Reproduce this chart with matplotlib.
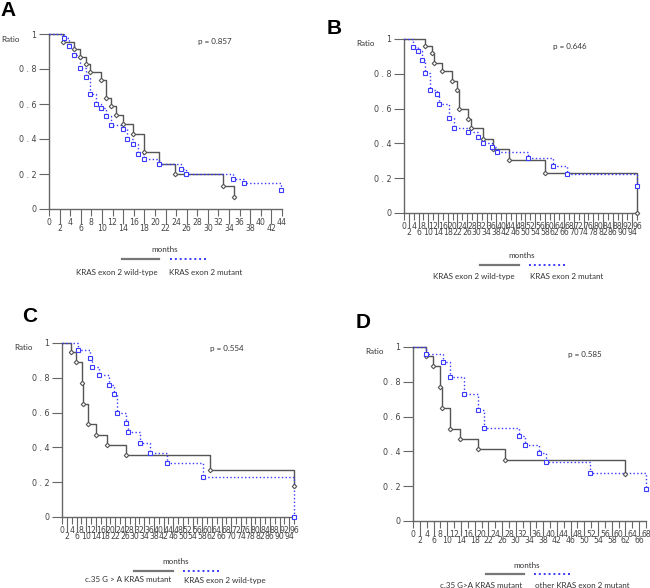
import matplotlib
matplotlib.use("Agg")
import matplotlib.pyplot as plt
from matplotlib.ticker import FixedLocator, FixedFormatter

# ---------------- data ----------------
# Panel A
A_black_t = [2.7, 4.7, 5.8, 6.9, 7.7, 9.8, 10.8, 11.7, 12.7, 13.9, 15.9, 17.9, 20.8, 23.8, 32.8, 34.9]
A_black_s = [0.957, 0.913, 0.870, 0.826, 0.783, 0.735, 0.636, 0.587, 0.535, 0.488, 0.430, 0.326, 0.260, 0.198, 0.131, 0.069]
A_blue_t = [2.8, 3.7, 4.7, 5.8, 6.9, 7.7, 8.8, 9.8, 10.8, 11.8, 13.9, 14.8, 15.9, 16.8, 17.9, 20.8, 24.9, 25.8, 34.8, 36.9, 43.9]
A_blue_s = [0.979, 0.930, 0.878, 0.804, 0.752, 0.655, 0.602, 0.579, 0.531, 0.478, 0.455, 0.400, 0.370, 0.312, 0.284, 0.255, 0.229, 0.200, 0.171, 0.147, 0.110]

# Panel B
B_black_t = [8.5, 11.6, 12.5, 15.6, 19.6, 21.9, 22.6, 26.4, 27.4, 32.5, 36.5, 43.4, 58.3, 96.0]
B_black_s = [0.960, 0.918, 0.862, 0.815, 0.759, 0.707, 0.598, 0.543, 0.491, 0.426, 0.369, 0.306, 0.231, 0.0]
B_blue_t = [3.7, 5.8, 7.6, 8.5, 10.6, 13.6, 14.6, 18.5, 20.5, 26.4, 30.4, 32.5, 36.4, 38.3, 51.1, 61.3, 67.2, 96.0]
B_blue_s = [0.956, 0.931, 0.880, 0.807, 0.707, 0.683, 0.625, 0.547, 0.491, 0.465, 0.434, 0.405, 0.380, 0.352, 0.317, 0.272, 0.224, 0.153]

# Panel C
C_black_t = [3.7, 5.9, 8.3, 8.7, 10.6, 13.9, 18.7, 26.6, 61.3, 96.0]
C_black_s = [0.948, 0.889, 0.769, 0.652, 0.533, 0.474, 0.415, 0.356, 0.270, 0.178]
C_blue_t = [6.5, 11.4, 12.4, 15.4, 19.4, 21.6, 22.6, 26.3, 27.4, 32.4, 36.4, 43.4, 58.3, 96.0]
C_blue_s = [0.960, 0.916, 0.862, 0.815, 0.757, 0.707, 0.597, 0.543, 0.489, 0.426, 0.367, 0.308, 0.231, 0.0]

# Panel D
D_black_t = [3.9, 5.7, 7.9, 8.6, 10.9, 13.6, 18.9, 26.9, 61.9]
D_black_s = [0.946, 0.889, 0.768, 0.651, 0.531, 0.471, 0.412, 0.352, 0.268]
D_blue_t = [3.8, 8.7, 10.7, 14.8, 18.9, 20.8, 30.8, 32.8, 36.7, 38.8, 51.7, 68.0]
D_blue_s = [0.962, 0.916, 0.829, 0.732, 0.636, 0.534, 0.487, 0.437, 0.389, 0.341, 0.274, 0.182]

y_ticks = [0, 0.2, 0.4, 0.6, 0.8, 1.0]
y_labels = ["0", "0 . 2", "0 . 4", "0 . 6", "0 . 8", "1"]

p_values = ["p = 0.857", "p = 0.646", "p = 0.554", "p = 0.585"]
legend_labels = [
    ("KRAS exon 2 wild-type", "KRAS exon 2 mutant"),
    ("KRAS exon 2 wild-type", "KRAS exon 2 mutant"),
    ("c.35 G > A KRAS mutant", "KRAS exon 2 wild-type"),
    ("c.35 G>A KRAS mutant", "other KRAS exon 2 mutant"),
]
x_max = [44, 96, 96, 68]
letters = ["A", "B", "C", "D"]

# ---------------- figure ----------------
W, H = 650, 588
fig = plt.figure(figsize=(W / 100, H / 100), dpi=100)
TXT = "#333333"
BLK = "#555555"
BLU = "#3b3bff"
TXTFONT = ["Lato", "DejaVu Sans"]
TFS = 5.8


def px_rect(x0, x1, y_top, y_bot):
    return [x0 / W, (H - y_bot) / H, (x1 - x0) / W, (y_bot - y_top) / H]


def fx(x):
    return x / W


def fy(y):
    return 1 - y / H


def km(ax, t, s, color, ls, marker, ms):
    xs = [0] + list(t)
    ys = [1] + list(s)
    ax.step(xs, ys, where="post", color=color, ls=ls, lw=1.0, clip_on=False, zorder=3)
    ax.plot(t, s, ls="none", marker=marker, ms=ms, mec=color, mfc="white",
            mew=0.8, clip_on=False, zorder=4)


def panel(i, rect, letter_xy, leg):
    x0, x1, yt, yb = rect
    ax = fig.add_axes(px_rect(x0, x1, yt, yb))
    xm = x_max[i]
    ax.set_xlim(0, xm)
    ax.set_ylim(0, 1)
    for sp in ("top", "right"):
        ax.spines[sp].set_visible(False)
    for sp in ("left", "bottom"):
        ax.spines[sp].set_color("#666666")
        ax.spines[sp].set_linewidth(1.0)
    ax.set_yticks(y_ticks)
    ax.set_yticklabels(y_labels)
    ax.tick_params(axis="y", direction="out", length=7.5, pad=1.5, width=0.8,
                   colors="#666666", labelsize=5.8, labelcolor="#444444")
    maj = list(range(0, xm + 1, 4))
    mnr = list(range(2, xm + 1, 4))
    ax.xaxis.set_major_locator(FixedLocator(maj))
    ax.xaxis.set_major_formatter(FixedFormatter([str(v) for v in maj]))
    ax.xaxis.set_minor_locator(FixedLocator(mnr))
    ax.xaxis.set_minor_formatter(FixedFormatter([str(v) for v in mnr]))
    ax.tick_params(axis="x", which="major", direction="out", length=5, pad=1.2, width=0.8,
                   colors="#666666", labelsize=5.6, labelcolor="#444444")
    ax.tick_params(axis="x", which="minor", direction="out", length=10.5, pad=0.2, width=0.8,
                   colors="#666666", labelsize=5.6, labelcolor="#444444")

    data = [
        (A_black_t, A_black_s, A_blue_t, A_blue_s),
        (B_black_t, B_black_s, B_blue_t, B_blue_s),
        (C_black_t, C_black_s, C_blue_t, C_blue_s),
        (D_black_t, D_black_s, D_blue_t, D_blue_s),
    ][i]
    km(ax, data[0], data[1], BLK, "-", "D", 2.3)
    km(ax, data[2], data[3], BLU, ":", "s", 3.0)

    # Ratio label and p value
    fig.text(fx(x0 - 29), fy(yt + 5), "Ratio", ha="right", va="center",
             fontsize=TFS, color=TXT, family=TXTFONT)
    ax.text(0.64 if i < 3 else 0.665, 0.955 if i != 2 else 0.97, p_values[i],
            transform=ax.transAxes, ha="left", va="center", fontsize=TFS,
            color=TXT, family=TXTFONT)
    # letter
    fig.text(fx(letter_xy[0]), fy(letter_xy[1]), letters[i], ha="left", va="center",
             fontsize=15, fontweight="bold", color="black", family=["Liberation Sans", "DejaVu Sans"])
    # legend
    mx, my, sx0, sx1, dx0, dx1, ly, lab1x, lab2x = leg
    fig.text(fx(mx), fy(my), "months", ha="center", va="center", fontsize=TFS,
             color=TXT, family=TXTFONT)
    fig.add_artist(plt.Line2D([fx(sx0), fx(sx1)], [fy(my + 9), fy(my + 9)],
                              color="#777777", lw=1.6, transform=fig.transFigure))
    fig.add_artist(plt.Line2D([fx(dx0), fx(dx1)], [fy(my + 9), fy(my + 9)],
                              color=BLU, lw=1.4, ls=(0, (1, 1.5)), transform=fig.transFigure))
    fig.text(fx(lab1x), fy(ly), legend_labels[i][0], ha="center", va="center",
             fontsize=TFS, color=TXT, family=TXTFONT)
    fig.text(fx(lab2x), fy(ly), legend_labels[i][1], ha="center", va="center",
             fontsize=TFS, color=TXT, family=TXTFONT)


panel(0, (49, 282, 34, 209), (0, 11), (165, 250, 122, 159, 170, 208, 272, 117, 206))
panel(1, (404, 637, 39, 213), (327, 29), (522, 256, 480, 519, 529, 567, 276, 474, 567))
panel(2, (62, 294, 343, 517), (22, 317), (176, 562, 134, 173, 183, 221, 580, 128, 225))
panel(3, (413, 646, 347, 521), (356, 322), (527, 565, 486, 524, 534, 572, 585, 481, 582))

fig.savefig("out.png", dpi=100)
